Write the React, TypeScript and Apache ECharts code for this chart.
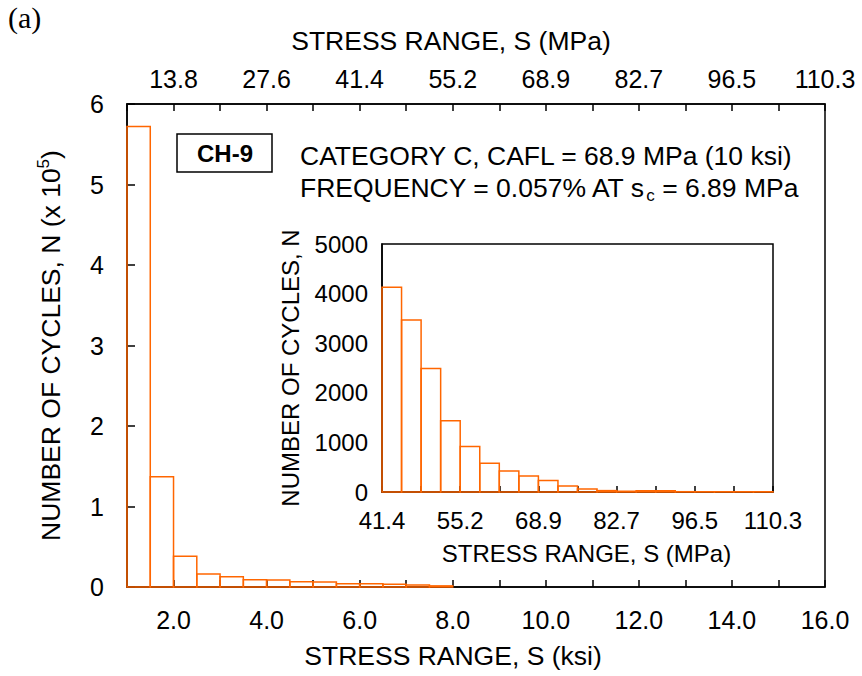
import React, { useEffect, useRef } from "react";
import * as echarts from "echarts";

// ---- data ----
const binWidthKsi = 0.5;
// main histogram: bin start (ksi) and number of cycles (x 10^5)
const mainBinStarts = [1.0, 1.5, 2.0, 2.5, 3.0, 3.5, 4.0, 4.5, 5.0, 5.5, 6.0, 6.5, 7.0, 7.5];
const mainCycles = [5.72, 1.37, 0.383, 0.163, 0.126, 0.089, 0.088, 0.064, 0.063, 0.04, 0.041, 0.035, 0.025, 0.014];
// inset histogram: bin start (ksi) and number of cycles
const insetBinStarts = [6.0, 6.5, 7.0, 7.5, 8.0, 8.5, 9.0, 9.5, 10.0, 10.5, 11.0, 11.5, 12.0, 12.5, 13.0, 13.5, 14.0, 14.5, 15.0, 15.5];
const insetCycles = [4130, 3470, 2490, 1435, 918, 580, 424, 323, 230, 121, 61, 28, 15, 25, 25, 6, 5, 5, 5, 5];
// tick labels
const ksiTicks = [2, 4, 6, 8, 10, 12, 14, 16];
const ksiLabels = ["2.0", "4.0", "6.0", "8.0", "10.0", "12.0", "14.0", "16.0"];
const mpaLabels = ["13.8", "27.6", "41.4", "55.2", "68.9", "82.7", "96.5", "110.3"];

const FONT = '"Liberation Sans", Arial, Helvetica, sans-serif';
const ORANGE = "#FF6600";

const labelFor = (labels: string[]) => (v: number) => {
  const i = ksiTicks.indexOf(Math.round(v * 1000) / 1000);
  return i >= 0 ? labels[i] : "";
};

const renderBar = (params: any, api: any) => {
  const x0 = api.value(0);
  const x1 = api.value(1);
  const v = api.value(2);
  const p0 = api.coord([x0, v]);
  const p1 = api.coord([x1, 0]);
  return {
    type: "rect",
    shape: { x: p0[0], y: p0[1], width: p1[0] - p0[0], height: p1[1] - p0[1] },
    style: { fill: "transparent", stroke: ORANGE, lineWidth: 1.5 },
  };
};

export default function App() {
  const ref = useRef<HTMLDivElement>(null);
  useEffect(() => {
    if (!ref.current) return;
    const chart = echarts.init(ref.current, undefined, { renderer: "svg" });
    const axisLine = { show: true, lineStyle: { color: "#000", width: 1.5 } };
    const tick = (len: number) => ({ show: true, inside: true, length: len, lineStyle: { color: "#000", width: 1.5 } });
    const mainData = mainBinStarts.map((s, i) => [s, s + binWidthKsi, mainCycles[i]]);
    const insetData = insetBinStarts.map((s, i) => [s, s + binWidthKsi, insetCycles[i]]);
    chart.setOption({
      animation: false,
      backgroundColor: "#fff",
      textStyle: { fontFamily: FONT, color: "#000" },
      grid: [
        { left: 127, top: 104, width: 698, height: 483, show: true, borderColor: "#000", borderWidth: 1.5, backgroundColor: "transparent" },
        { left: 382, top: 244, width: 391, height: 248, show: true, borderColor: "#000", borderWidth: 1.5, backgroundColor: "#fff" },
      ],
      xAxis: [
        {
          gridIndex: 0, type: "value", min: 1, max: 16, interval: 1, position: "bottom",
          name: "STRESS RANGE, S (ksi)", nameLocation: "middle", nameGap: 55,
          nameTextStyle: { fontSize: 26.5, fontFamily: FONT, color: "#000", padding: [0, 46, 0, 0] },
          axisLine, axisTick: tick(7), splitLine: { show: false },
          axisLabel: { fontSize: 25, fontFamily: FONT, color: "#000", margin: 20, formatter: labelFor(ksiLabels) },
        },
        {
          gridIndex: 0, type: "value", min: 1, max: 16, interval: 1, position: "top",
          name: "STRESS RANGE, S (MPa)", nameLocation: "middle", nameGap: 50,
          nameTextStyle: { fontSize: 26.5, fontFamily: FONT, color: "#000", padding: [0, 50, 0, 0] },
          axisLine, axisTick: tick(7), splitLine: { show: false },
          axisLabel: { fontSize: 25, fontFamily: FONT, color: "#000", margin: 13, formatter: labelFor(mpaLabels) },
        },
        {
          gridIndex: 1, type: "value", min: 6, max: 16, interval: 1, position: "bottom",
          name: "STRESS RANGE, S (MPa)", nameLocation: "middle", nameGap: 49,
          nameTextStyle: { fontSize: 24, fontFamily: FONT, color: "#000", padding: [0, 0, 0, 18] },
          axisLine, axisTick: tick(6), splitLine: { show: false },
          axisLabel: { fontSize: 24, fontFamily: FONT, color: "#000", margin: 16, formatter: labelFor(mpaLabels) },
        },
      ],
      yAxis: [
        {
          gridIndex: 0, type: "value", min: 0, max: 6, interval: 1,
          name: "{n|NUMBER OF CYCLES, N (x 10}{s|5}{n|)}", nameLocation: "middle", nameGap: 60, nameRotate: 90,
          nameTextStyle: {
            fontSize: 26.5, fontFamily: FONT, color: "#000",
            rich: {
              n: { fontSize: 26.5, fontFamily: FONT, color: "#000", lineHeight: 32 },
              s: { fontSize: 17, fontFamily: FONT, color: "#000", lineHeight: 32, verticalAlign: "top" },
            },
          },
          axisLine, axisTick: tick(8), splitLine: { show: false },
          axisLabel: { fontSize: 25, fontFamily: FONT, color: "#000", margin: 23 },
        },
        {
          gridIndex: 1, type: "value", min: 0, max: 5000, interval: 1000,
          name: "NUMBER OF CYCLES, N", nameLocation: "middle", nameGap: 80, nameRotate: 90,
          nameTextStyle: { fontSize: 24, fontFamily: FONT, color: "#000" },
          axisLine, axisTick: { show: false }, splitLine: { show: false },
          axisLabel: { fontSize: 24, fontFamily: FONT, color: "#000", margin: 14, formatter: (v: number) => String(v) },
        },
      ],
      series: [
        { type: "custom", xAxisIndex: 0, yAxisIndex: 0, renderItem: renderBar, data: mainData, encode: { x: [0, 1], y: 2 }, z: 1 },
        { type: "custom", xAxisIndex: 2, yAxisIndex: 1, renderItem: renderBar, data: insetData, encode: { x: [0, 1], y: 2 }, z: 3 },
      ],
      graphic: [
        { type: "text", left: 8, top: 2, style: { text: "(a)", font: '30px "Liberation Serif", "Times New Roman", serif', fill: "#000" } },
        { type: "rect", shape: { x: 177, y: 134, width: 95, height: 38 }, style: { fill: "#fff", stroke: "#000", lineWidth: 1.5 } },
        { type: "text", x: 225, y: 153, style: { text: "CH-9", font: `bold 24px ${FONT}`, fill: "#000", align: "center", verticalAlign: "middle" } },
        { type: "text", x: 300, y: 156, style: { text: "CATEGORY C, CAFL = 68.9 MPa (10 ksi)", font: `26.5px ${FONT}`, fill: "#000", align: "left", verticalAlign: "middle" } },
        {
          type: "text", x: 300, y: 188,
          style: {
            text: "{a|FREQUENCY = 0.057% AT s}{b|c}{a| = 6.89 MPa}",
            align: "left", verticalAlign: "middle", fill: "#000",
            rich: {
              a: { fontSize: 26.5, fontFamily: FONT, fill: "#000", lineHeight: 32 },
              b: { fontSize: 17, fontFamily: FONT, fill: "#000", lineHeight: 32, verticalAlign: "bottom" },
            },
          },
        },
      ],
    });
    return () => chart.dispose();
  }, []);
  return <div ref={ref} style={{ position: "fixed", left: 0, top: 0, width: 862, height: 676 }} />;
}
